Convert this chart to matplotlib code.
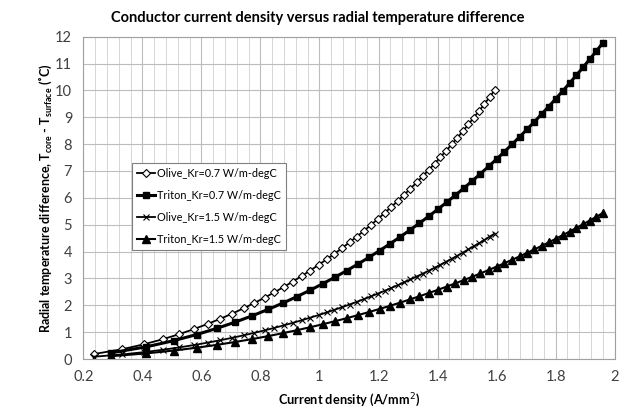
import matplotlib
matplotlib.use("Agg")
import matplotlib.pyplot as plt
from matplotlib.ticker import MultipleLocator

# current density (A/mm2) for each conductor
olive_x = [0.2349, 0.3323, 0.4069, 0.4699, 0.5254, 0.5755, 0.6216, 0.6645, 0.7048, 0.7430,
           0.7792, 0.8139, 0.8471, 0.8791, 0.9099, 0.9398, 0.9687, 0.9968, 1.0241, 1.0507,
           1.0767, 1.1020, 1.1268, 1.1510, 1.1747, 1.1980, 1.2208, 1.2432, 1.2652, 1.2869,
           1.3081, 1.3291, 1.3497, 1.3700, 1.3900, 1.4097, 1.4291, 1.4483, 1.4673, 1.4859,
           1.5044, 1.5226, 1.5407, 1.5585, 1.5761, 1.5935]
triton_x = [0.2921, 0.4130, 0.5059, 0.5841, 0.6531, 0.7154, 0.7727, 0.8261, 0.8762, 0.9236,
            0.9687, 1.0117, 1.0530, 1.0928, 1.1312, 1.1682, 1.2042, 1.2391, 1.2731, 1.3061,
            1.3384, 1.3699, 1.4007, 1.4308, 1.4603, 1.4892, 1.5176, 1.5454, 1.5728, 1.5997,
            1.6261, 1.6521, 1.6778, 1.7030, 1.7279, 1.7524, 1.7765, 1.8004, 1.8239, 1.8472,
            1.8701, 1.8928, 1.9152, 1.9373, 1.9592]

# radial temperature difference (degC)
olive_07 = [0.183, 0.367, 0.552, 0.739, 0.927, 1.117, 1.308, 1.500, 1.693, 1.888,
            2.085, 2.283, 2.482, 2.683, 2.885, 3.089, 3.295, 3.502, 3.710, 3.920,
            4.132, 4.345, 4.560, 4.777, 4.995, 5.215, 5.437, 5.660, 5.886, 6.113,
            6.342, 6.572, 6.805, 7.039, 7.275, 7.513, 7.753, 7.995, 8.239, 8.486,
            8.734, 8.984, 9.236, 9.490, 9.747, 10.005]
triton_07 = [0.226, 0.453, 0.682, 0.912, 1.144, 1.377, 1.611, 1.847, 2.084, 2.323,
             2.564, 2.806, 3.049, 3.294, 3.541, 3.789, 4.039, 4.291, 4.544, 4.799,
             5.055, 5.313, 5.573, 5.835, 6.098, 6.363, 6.630, 6.899, 7.169, 7.441,
             7.715, 7.991, 8.269, 8.549, 8.831, 9.115, 9.400, 9.688, 9.977, 10.269,
             10.563, 10.859, 11.156, 11.457, 11.759]
olive_15 = [0.085, 0.171, 0.258, 0.345, 0.433, 0.521, 0.611, 0.700, 0.791, 0.882,
            0.974, 1.066, 1.159, 1.253, 1.347, 1.443, 1.539, 1.635, 1.733, 1.831,
            1.930, 2.029, 2.130, 2.231, 2.333, 2.436, 2.539, 2.643, 2.749, 2.855,
            2.961, 3.069, 3.178, 3.287, 3.398, 3.509, 3.621, 3.734, 3.848, 3.963,
            4.079, 4.195, 4.313, 4.432, 4.552, 4.672]
triton_15 = [0.104, 0.209, 0.315, 0.421, 0.528, 0.636, 0.744, 0.853, 0.963, 1.073,
             1.184, 1.296, 1.409, 1.522, 1.636, 1.751, 1.866, 1.982, 2.099, 2.217,
             2.335, 2.455, 2.575, 2.696, 2.817, 2.940, 3.063, 3.187, 3.312, 3.438,
             3.565, 3.692, 3.820, 3.950, 4.080, 4.211, 4.343, 4.476, 4.610, 4.744,
             4.880, 5.017, 5.154, 5.293, 5.432]

labels = ["Olive_Kr=0.7 W/m-degC", "Triton_Kr=0.7 W/m-degC",
          "Olive_Kr=1.5 W/m-degC", "Triton_Kr=1.5 W/m-degC"]
xtick_labels = ['0.2', '0.4', '0.6', '0.8', '1', '1.2', '1.4', '1.6', '1.8', '2']

plt.rcParams['font.family'] = ['Lato', 'DejaVu Sans']

fig = plt.figure(figsize=(6.35, 4.15), dpi=100)
ax = fig.add_axes([0.1312, 0.1349, 0.8368, 0.7767])

ax.plot(olive_x, olive_07, color='black', lw=1.3, marker='D', ms=4.4,
        mfc='white', mec='black', mew=0.8, label=labels[0])
ax.plot(triton_x, triton_07, color='black', lw=2.2, marker='s', ms=5,
        mfc='black', mec='black', label=labels[1])
ax.plot(olive_x, olive_15, color='black', lw=1.3, marker='x', ms=5,
        mec='black', mew=0.8, label=labels[2])
ax.plot(triton_x, triton_15, color='black', lw=1.5, marker='^', ms=5.5,
        mfc='black', mec='black', label=labels[3])

ax.set_xlim(0.2, 2.0)
ax.set_ylim(0, 12)
ax.xaxis.set_minor_locator(MultipleLocator(0.04))
ax.yaxis.set_major_locator(MultipleLocator(1))
ax.set_xticks([0.2, 0.4, 0.6, 0.8, 1.0, 1.2, 1.4, 1.6, 1.8, 2.0])
ax.set_xticklabels(xtick_labels)

ax.grid(which='major', color='#bdbdbd', lw=0.8)
ax.grid(which='minor', axis='x', color='#d6d6d6', lw=0.7)
ax.set_axisbelow(True)
ax.tick_params(which='both', length=0, labelsize=10.5, colors='#404040', pad=8)
for sp in ax.spines.values():
    sp.set_color('#a0a0a0')
    sp.set_linewidth(0.8)

ax.set_xlabel('Current density (A/mm$^2$)', fontsize=9.2, fontweight='bold', labelpad=5)
ax.set_ylabel('Radial temperature difference, T$_{\\mathregular{core}}$ - T$_{\\mathregular{surface}}$ (\u02daC)',
              fontsize=9.0, fontweight='bold', labelpad=1)
fig.text(0.5, 0.957, 'Conductor current density versus radial temperature difference',
         ha='center', va='center', fontsize=10.5, fontweight='bold')

leg = ax.legend(loc='lower left', bbox_to_anchor=(0.091, 0.338), borderaxespad=0,
                fontsize=7.8, fancybox=False, framealpha=1, edgecolor='#808080',
                handlelength=1.7, handletextpad=0.1, labelspacing=1.0, borderpad=0.5)
leg.get_frame().set_linewidth(0.8)

fig.savefig('out.png', dpi=100)
